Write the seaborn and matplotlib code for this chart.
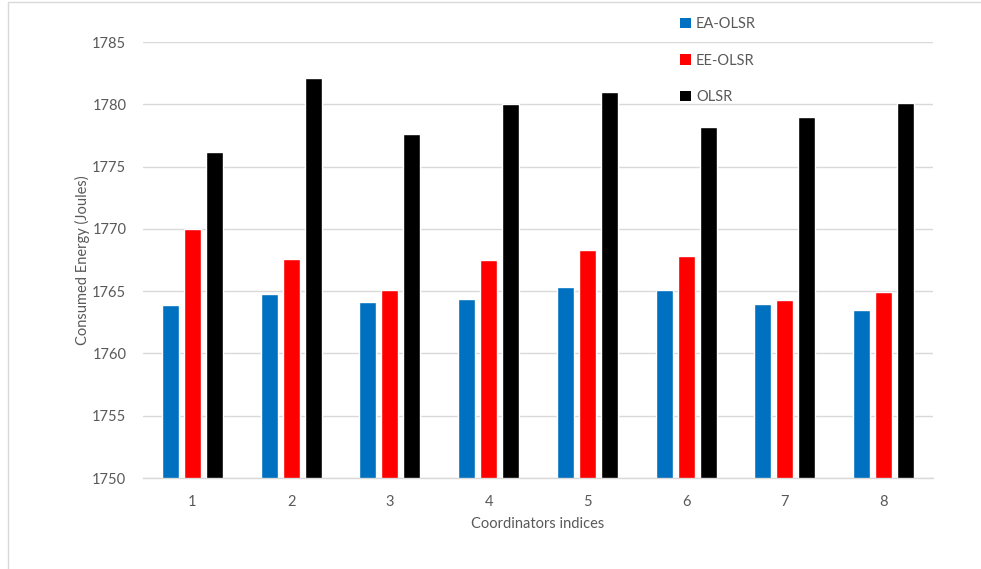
import matplotlib
matplotlib.use("Agg")
import matplotlib.pyplot as plt
from matplotlib.lines import Line2D
from matplotlib.patches import Patch
import seaborn as sns
import pandas as pd

# Energy consumed per coordinator index, for each routing protocol
coordinators = ["1", "2", "3", "4", "5", "6", "7", "8"]
ea_olsr = [1763.9, 1764.8, 1764.1, 1764.4, 1765.3, 1765.1, 1764.0, 1763.5]
ee_olsr = [1770.0, 1767.6, 1765.1, 1767.5, 1768.3, 1767.8, 1764.3, 1764.9]
olsr = [1776.2, 1782.1, 1777.6, 1780.0, 1781.0, 1778.2, 1779.0, 1780.1]
series_names = ["EA-OLSR", "EE-OLSR", "OLSR"]
colors = ["#0070C0", "#FF0000", "#000000"]
y_ticks = [1750, 1755, 1760, 1765, 1770, 1775, 1780, 1785]

df = pd.DataFrame({
    "coord": coordinators * 3,
    "energy": ea_olsr + ee_olsr + olsr,
    "series": [n for n in series_names for _ in coordinators],
})

sns.set_theme(style="white")
plt.rcParams["font.family"] = ["Lato", "DejaVu Sans"]
text_color = "#595959"
grid_color = "#D9D9D9"

fig = plt.figure(figsize=(9.81, 5.69), dpi=100)
ax = fig.add_axes([143 / 981, 1 - 478 / 569, (933 - 143) / 981, (478 - 42) / 569])

sns.barplot(data=df, x="coord", y="energy", hue="series", order=coordinators,
            hue_order=series_names, palette=colors, width=0.667, gap=0.227,
            saturation=1, ax=ax, legend=False)

ax.set_ylim(1750, 1785)
ax.set_yticks(y_ticks)
ax.set_yticklabels([str(t) for t in y_ticks])
ax.yaxis.grid(True, color=grid_color, linewidth=1.0)
ax.set_axisbelow(True)
for side in ["top", "right", "left"]:
    ax.spines[side].set_visible(False)
ax.spines["bottom"].set_color(grid_color)
ax.spines["bottom"].set_linewidth(1.0)
ax.tick_params(axis="both", length=0, labelsize=10.5, labelcolor=text_color)
ax.tick_params(axis="y", pad=12)
ax.tick_params(axis="x", pad=12)

ax.set_xlabel("Coordinators indices", fontsize=10.5, color=text_color, labelpad=6)
ax.set_ylabel("Consumed Energy (Joules)", fontsize=10.5, color=text_color, labelpad=1.5)

handles = [Patch(facecolor=c, edgecolor="none") for c in colors]
fig.legend(handles, series_names, loc="upper left",
           bbox_to_anchor=(680 / 981, 1 - 17 / 569), frameon=False,
           fontsize=10.5, labelcolor=text_color, handlelength=0.75,
           handleheight=0.75, handletextpad=0.35, labelspacing=1.55,
           borderpad=0, borderaxespad=0)

# light frame on the left and top edges of the chart area
fig.add_artist(Line2D([8 / 981, 8 / 981], [0, 1 - 2 / 569], transform=fig.transFigure,
                      color="#D9D9D9", linewidth=1))
fig.add_artist(Line2D([8 / 981, 1], [1 - 2 / 569, 1 - 2 / 569], transform=fig.transFigure,
                      color="#D9D9D9", linewidth=1))

fig.savefig("out.png", dpi=100)
